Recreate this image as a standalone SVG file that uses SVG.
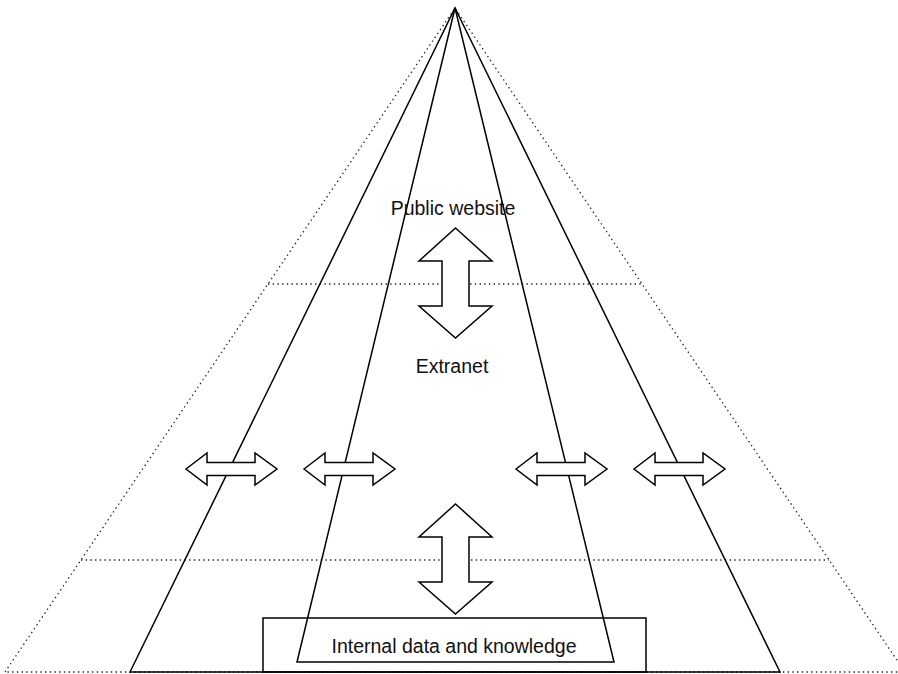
<svg xmlns="http://www.w3.org/2000/svg" xmlns:xlink="http://www.w3.org/1999/xlink" width="898" height="674" viewBox="0 0 898 674">
  <style>
    .dot { fill: none; stroke: #222; stroke-width: 1.3; stroke-dasharray: 1.4 3.3; }
    .solid { fill: none; stroke: #000; stroke-width: 1.5; }
    .arrow { fill: #fff; stroke: #000; stroke-width: 1.5; stroke-linejoin: miter; }
    .lbl { font-family: "Liberation Sans", Arial, Helvetica, sans-serif; font-size: 19.5px; fill: #111; text-anchor: middle; }
  </style>
  <defs>
    <polygon id="harrow" points="0,0 21,-16 21,-6.5 69,-6.5 69,-16 91,0 69,16 69,6.5 21,6.5 21,16" />
    <polygon id="varrow" points="0,0 36.5,33 13.5,33 13.5,78 36.5,78 0,110 -36.5,78 -13.5,78 -13.5,33 -36.5,33" />
  </defs>
  <rect width="898" height="674" fill="#fff"/>
  <g id="layers">
    <path class="dot" d="M5,672 L455,8 L905,672 Z"/>
    <line class="dot" x1="268" y1="284" x2="642" y2="284"/>
    <line class="dot" x1="81" y1="560" x2="829" y2="560"/>
  </g>
  <g id="outer-triangle">
    <path class="solid" d="M130,672 L455,8 L780,672 Z"/>
  </g>
  <g id="inner-triangle">
    <path class="solid" d="M297,662 L455,8 L614,662 Z"/>
  </g>
  <g id="internal-data">
    <rect class="solid" x="263" y="618" width="383" height="54"/>
    <text class="lbl" x="454" y="653">Internal data and knowledge</text>
  </g>
  <g id="public-website">
    <text class="lbl" x="453" y="215">Public website</text>
  </g>
  <g id="extranet">
    <text class="lbl" x="452" y="373">Extranet</text>
  </g>
  <g id="connectors">
    <use xlink:href="#varrow" class="arrow" x="455.5" y="228"/>
    <use xlink:href="#varrow" class="arrow" x="455.5" y="504"/>
    <use xlink:href="#harrow" class="arrow" x="186" y="469"/>
    <use xlink:href="#harrow" class="arrow" x="304" y="469"/>
    <use xlink:href="#harrow" class="arrow" x="516" y="469"/>
    <use xlink:href="#harrow" class="arrow" x="634" y="469"/>
  </g>
</svg>
